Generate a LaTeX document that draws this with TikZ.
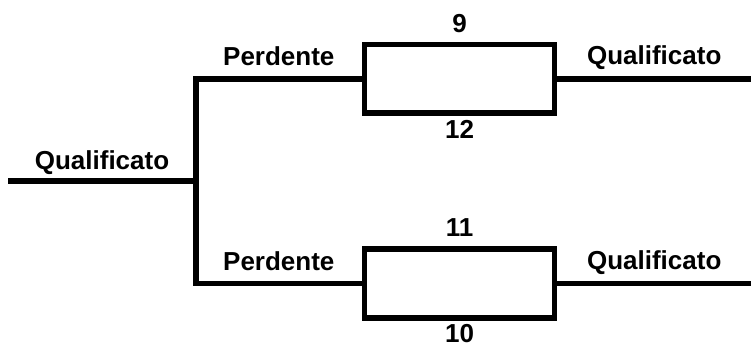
\documentclass[tikz,border=0pt]{standalone}
\usepackage{fontspec}
\setmainfont{Liberation Sans}
\usetikzlibrary{positioning,calc}

\begin{document}
\begin{tikzpicture}[x=0.5bp,y=0.5bp,
match/.style={
% The shape:
rectangle,
% The size:
minimum width=95bp, minimum height=34.25bp,
% The border:
line width=2.9bp, draw=black,
% The filling:
fill=white
},
wire/.style={line width=2.9bp, line join=miter},
tag/.style={
% no padding, baseline at the bottom
inner sep=0pt, text depth=0pt,
% Font
font=\bfseries\fontsize{13bp}{15bp}\selectfont}]
\useasboundingbox (0,0) rectangle (751,347);

\coordinate (in) at (8,166);
\coordinate (split) at (196,166);
\node (m1) [match] at (459.5,268.25) {};
\node (m2) [match] at (459.5,63.5) {};
\coordinate (up) at (split |- m1.west);
\coordinate (down) at (split |- m2.west);
\coordinate (out1) at (751,0 |- m1.east);
\coordinate (out2) at (751,0 |- m2.east);

\node (n9) [tag, above=4.5bp of m1] {9};
\node (n12) [tag, below=2bp of m1] {12};
\node (n11) [tag, above=4.5bp of m2] {11};
\node (n10) [tag, below=1.8bp of m2] {10};

\draw [wire] (in) -- node (q0) [tag, above=4.5bp] {Qualificato} (split);
\draw [wire] (m1.west) -- node (p1) [tag, above=5bp] {Perdente} (up)
  -- (down) -- node (p2) [tag, above=5bp] {Perdente} (m2.west);
\draw [wire] (m1.east) -- node (q1) [tag, above=5.5bp] {Qualificato} (out1);
\draw [wire] (m2.east) -- node (q2) [tag, above=5.5bp] {Qualificato} (out2);
\end{tikzpicture}
\end{document}
